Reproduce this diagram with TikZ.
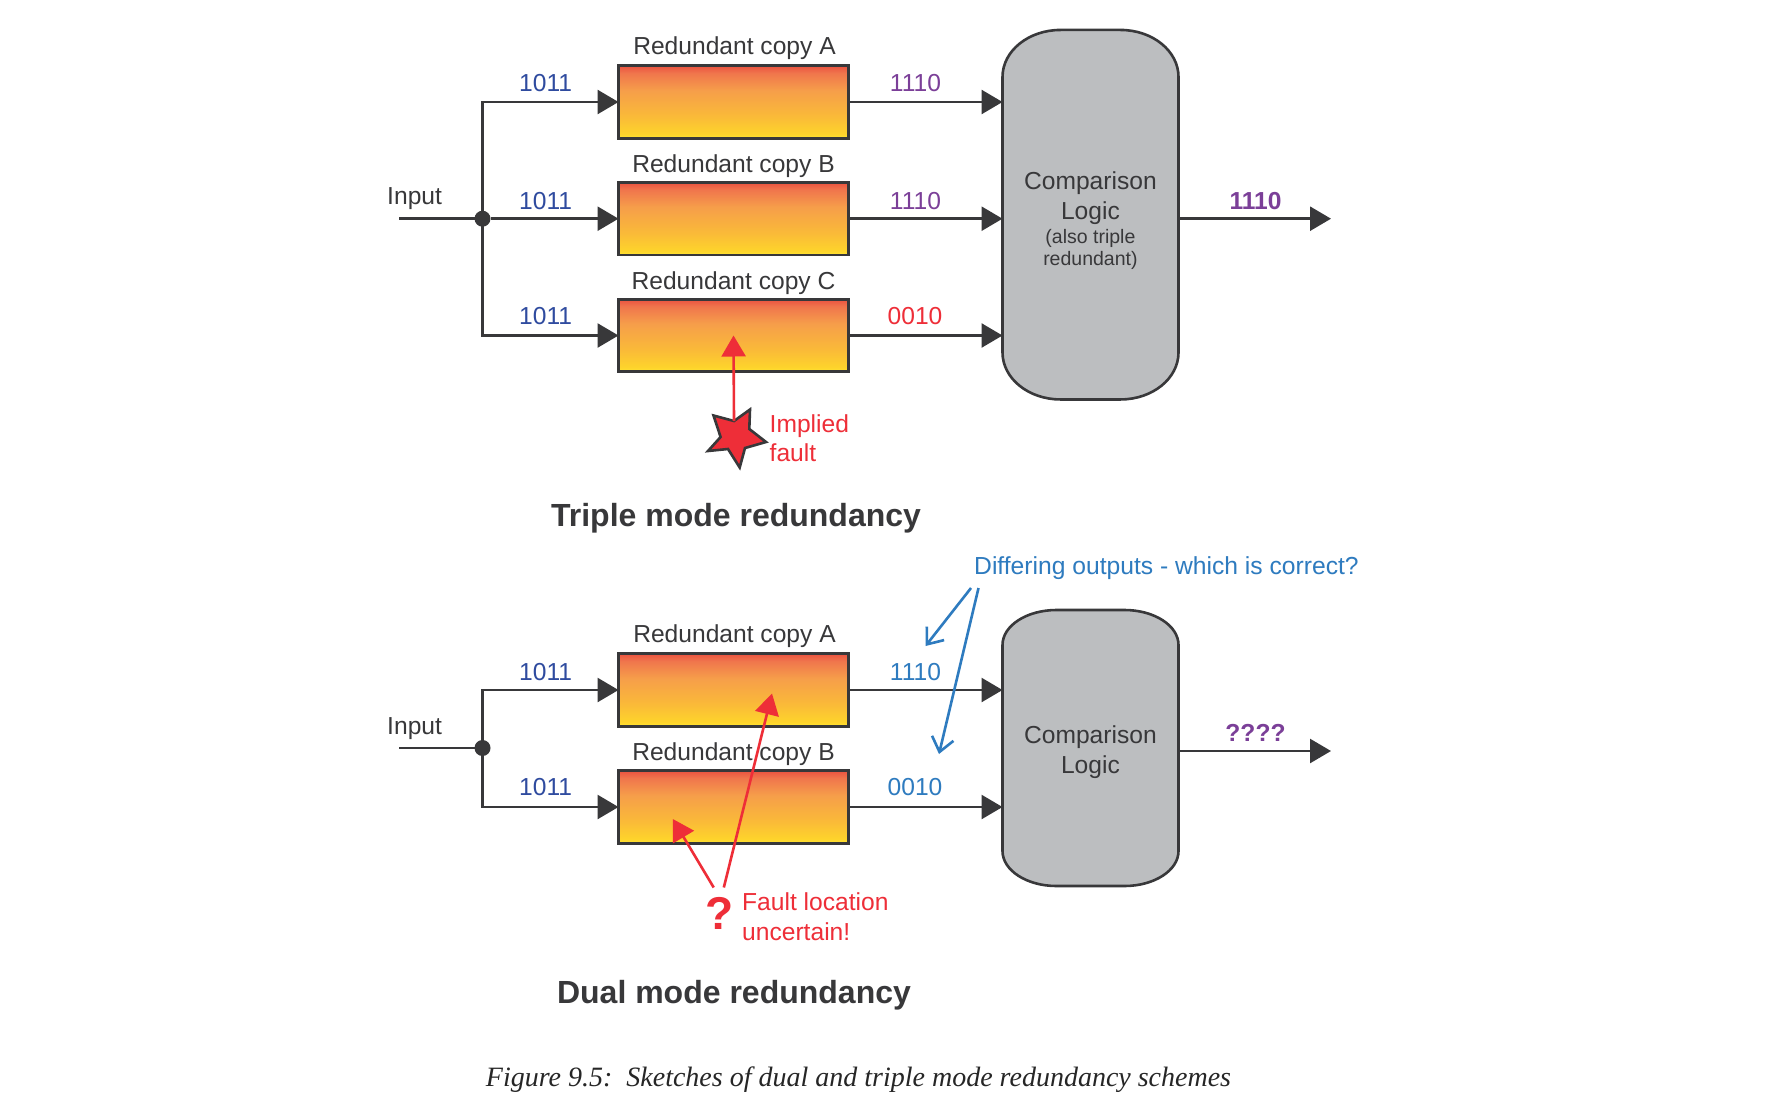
\documentclass[tikz,border=0pt]{standalone}
\usepackage{fontspec}
\setmainfont{Liberation Sans}
\newfontfamily\capfont{Liberation Serif}
\usetikzlibrary{arrows.meta,calc}
\definecolor{ink}{HTML}{38383A}
\definecolor{numblue}{HTML}{2F4B9F}
\definecolor{numpurple}{HTML}{7B3F98}
\definecolor{fltred}{HTML}{EE2E38}
\definecolor{noteblue}{HTML}{2E7BBF}
\definecolor{cmpgrey}{HTML}{BCBEC0}
\pgfdeclareverticalshading{copyshade}{100bp}{rgb(0bp)=(1,0.90,0.20); rgb(25bp)=(1,0.90,0.20); rgb(28bp)=(0.995,0.83,0.17); rgb(40bp)=(0.98,0.73,0.22); rgb(58bp)=(0.965,0.62,0.29); rgb(70bp)=(0.94,0.46,0.30); rgb(75bp)=(0.92,0.32,0.25); rgb(100bp)=(0.92,0.32,0.25)}
\tikzset{
  wire/.style={draw=ink,line width=2.6pt},
  arrowwire/.style={wire,-{Triangle[length=21pt,width=24pt]}},
  copybox/.style={draw=ink,line width=2.6pt,shading=copyshade,minimum width=230pt,minimum height=72.5pt,inner sep=0pt,outer sep=0pt},
  txt/.style={text=ink,inner sep=0pt,font=\fontsize{24.6}{29.5}\selectfont},
  numA/.style={text=numblue,inner sep=0pt,font=\fontsize{24.6}{29.5}\selectfont},
  numB/.style={text=numpurple,inner sep=0pt,font=\fontsize{24.6}{29.5}\selectfont},
  numR/.style={text=fltred,inner sep=0pt,font=\fontsize{24.6}{29.5}\selectfont},
  numN/.style={text=noteblue,inner sep=0pt,font=\fontsize{24.6}{29.5}\selectfont},
  numBold/.style={text=numpurple,inner sep=0pt,font=\fontsize{24.6}{29.5}\selectfont\bfseries},
  redtxt/.style={text=fltred,inner sep=0pt,align=left,anchor=west,font=\fontsize{24.6}{29.5}\selectfont},
  title/.style={text=ink,inner sep=0pt,font=\fontsize{32}{36}\selectfont\bfseries},
  small/.style={text=ink,inner sep=0pt,align=center,font=\fontsize{19.5}{22.7}\selectfont},
  faultarrow/.style={draw=fltred,line width=2.6pt,-{Triangle[length=21pt,width=24pt]}},
  notearrow/.style={draw=noteblue,line width=2.6pt,-{Straight Barb[length=14pt,width=22pt,line width=2.6pt]}},
  dotnode/.style={circle,fill=ink,minimum size=16pt,inner sep=0pt,outer sep=0pt},
  cmpframe/.style={minimum width=176pt,inner sep=0pt,outer sep=0pt},
  cmpline/.style={draw=ink,line width=2.6pt,fill=cmpgrey}
}
\newcommand{\cmpoutline}[3]{%
  \path[cmpline] ([xshift=#2pt]#1.north west) -- ([xshift=-#2pt]#1.north east)
    arc[start angle=90,end angle=0,x radius=#2pt,y radius=#3pt]
    -- ([yshift=#3pt]#1.south east)
    arc[start angle=0,end angle=-90,x radius=#2pt,y radius=#3pt]
    -- ([xshift=#2pt]#1.south west)
    arc[start angle=-90,end angle=-180,x radius=#2pt,y radius=#3pt]
    -- ([yshift=-#3pt]#1.north west)
    arc[start angle=180,end angle=90,x radius=#2pt,y radius=#3pt] -- cycle;}
\begin{document}
\begin{tikzpicture}[x=1pt,y=-1pt]
\useasboundingbox[fill=white] (0,0) rectangle (1776,1108);

% ===== Triple mode =====
\node[copybox] (ta) at (733.5,102) {};
\node[copybox] (tb) at (733.5,218.7) {};
\node[copybox] (tc) at (733.5,335.5) {};
\node[txt] (tla) at (734.5,48.5) {Redundant copy A};
\node[txt] (tlb) at (733.5,166) {Redundant copy B};
\node[txt] (tlc) at (733.5,283.5) {Redundant copy C};

\node[cmpframe,minimum height=369.5pt] (tcmp) at (1090.5,214.7) {};
\cmpoutline{tcmp}{58}{47}
\node[txt,align=center] (tcmptxt) at (1090.4,198) {Comparison\\Logic};
\node[small] (tcmpsmall) at (1090.4,249.5) {(also triple\\redundant)};

\node[dotnode] (tj) at (482.5,218.7) {};
\coordinate (tin) at (399,218.7);
\node[txt] (tinput) at (414.6,198.5) {Input};
\coordinate (tout) at (1331,218.7);

\draw[wire] (tin) -- (tj);
\draw[arrowwire] (tj) -- (tb.west);
\draw[arrowwire] (tj.center) |- (ta.west);
\draw[arrowwire] (tj.center) |- (tc.west);
\draw[arrowwire] (ta.east) -- (ta.east -| tcmp.west);
\draw[arrowwire] (tb.east) -- (tb.east -| tcmp.west);
\draw[arrowwire] (tc.east) -- (tc.east -| tcmp.west);
\draw[arrowwire] (tb.east -| tcmp.east) -- (tout);

\node[numA] (tn1) at (545.6,83) {1011};
\node[numA] (tn2) at (545.6,201) {1011};
\node[numA] (tn3) at (545.6,316) {1011};
\node[numB] (tn4) at (915.5,83) {1110};
\node[numB] (tn5) at (915.5,201) {1110};
\node[numR] (tn6) at (915,316) {0010};
\node[numBold] (tn7) at (1255.5,201) {1110};

\path[draw=ink,line width=2.6pt,fill=fltred,line join=miter]
  (734,421) -- (750,409.5) -- (749.3,429) -- (766,442) -- (745,448)
  -- (739.7,467.5) -- (728,449) -- (708,451) -- (720.6,437) -- (713.5,415.5) -- cycle;
\coordinate (star) at (734,421);
\draw[faultarrow] (star) -- (tc.center);
\node[redtxt] (tfault) at (769.5,438) {Implied\\fault};
\node[title] (ttitle) at (736,518.5) {Triple mode redundancy};

% ===== Dual mode =====
\node[copybox] (da) at (733.5,690) {};
\node[copybox] (db) at (733.5,807) {};
\node[txt] (dla) at (734.5,636.5) {Redundant copy A};
\node[txt] (dlb) at (733.5,754.5) {Redundant copy B};

\node[cmpframe,minimum height=276pt] (dcmp) at (1090.5,748) {};
\cmpoutline{dcmp}{54}{35}
\node[txt,align=center] (dcmptxt) at (1090.4,752) {Comparison\\Logic};

\node[dotnode] (dj) at (482.5,748) {};
\coordinate (din) at (399,748);
\node[txt] (dinput) at (414.6,728.5) {Input};
\coordinate (dout) at (1331,751);

\draw[wire] (din) -- (dj);
\draw[arrowwire] (dj.center) |- (da.west);
\draw[arrowwire] (dj.center) |- (db.west);
\draw[arrowwire] (da.east) -- (da.east -| dcmp.west);
\draw[arrowwire] (db.east) -- (db.east -| dcmp.west);
\draw[arrowwire] (dout -| dcmp.east) -- (dout);

\node[numA] (dn1) at (545.6,672.5) {1011};
\node[numA] (dn2) at (545.6,787) {1011};
\node[numN] (dn3) at (915.5,672.5) {1110};
\node[numN] (dn4) at (915,787) {0010};
\node[numBold] (dn5) at (1255.5,733) {????};

\node[text=noteblue,inner sep=0pt,anchor=west,font=\fontsize{24.65}{29.5}\selectfont] (dnote) at (974,568.5) {Differing outputs - which is correct?};
\coordinate (ns1) at (971,588);
\coordinate (ne1) at (925.5,646);
\coordinate (ns2) at (978.5,588);
\coordinate (ne2) at (939,754);
\draw[notearrow] (ns1) -- (ne1);
\draw[notearrow] (ns2) -- (ne2);

\node[text=fltred,inner sep=0pt,font=\fontsize{46}{50}\selectfont\bfseries] (dq) at (720,913) {?};
\coordinate (fs1) at (723.8,887.5);
\coordinate (fe1) at (772,693.5);
\coordinate (fs2) at (713.7,887.5);
\coordinate (fe2) at (672.8,819);
\draw[faultarrow] (fs1) -- (fe1);
\draw[faultarrow] (fs2) -- (fe2);
\node[redtxt] (dfault) at (742,916.5) {Fault location\\uncertain!};
\node[title] (dtitle) at (734,995) {Dual mode redundancy};

\node[inner sep=0pt,text=black!85,font=\capfont\itshape\fontsize{28}{32}\selectfont] (cap) at (858.5,1080) {Figure 9.5:\ \ Sketches of dual and triple mode redundancy schemes};
\end{tikzpicture}
\end{document}
